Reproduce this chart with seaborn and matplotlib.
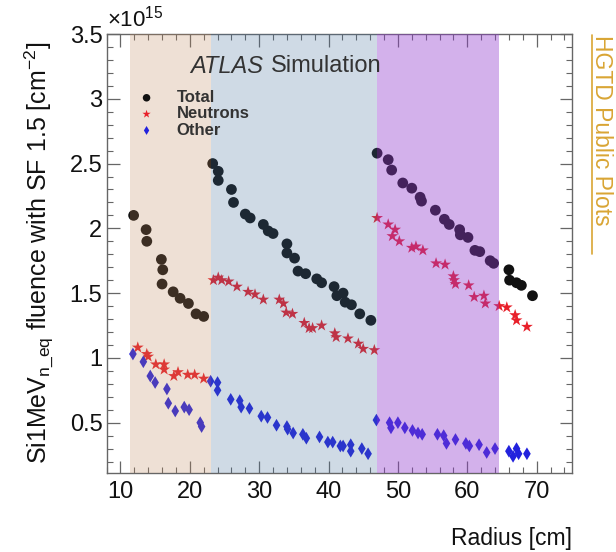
import numpy as np
import pandas as pd
import matplotlib
matplotlib.use("Agg")
import matplotlib.pyplot as plt
from matplotlib.lines import Line2D
from matplotlib.ticker import MultipleLocator, FuncFormatter
import seaborn as sns

# fluence values in units of 1e15 cm^-2, radius in cm
total_r = [11.9, 13.7, 13.8, 15.9, 16.1, 16.0, 17.6, 18.6, 19.8, 20.9, 22.0,
           23.3, 24.1, 24.1, 26.0, 26.3, 28.0, 28.7, 30.6, 31.3, 32.0, 34.0, 34.0, 35.1,
           35.6, 36.7, 38.3, 39.0, 40.8, 41.2, 42.1, 42.4, 43.3, 44.5, 46.1,
           47.0, 48.6, 49.1, 50.7, 52.0, 53.2, 53.4, 55.4, 56.7, 57.4, 58.9, 59.0, 60.1,
           61.1, 61.8, 63.3, 63.8,
           66.0, 66.1, 67.1, 67.8, 69.4]
total_f = [2.10, 1.99, 1.90, 1.76, 1.68, 1.57, 1.51, 1.46, 1.42, 1.34, 1.32,
           2.50, 2.44, 2.37, 2.30, 2.20, 2.11, 2.08, 2.03, 1.98, 1.96, 1.88, 1.81, 1.77,
           1.67, 1.65, 1.61, 1.58, 1.55, 1.48, 1.50, 1.43, 1.41, 1.34, 1.29,
           2.58, 2.53, 2.45, 2.35, 2.31, 2.24, 2.21, 2.14, 2.07, 2.03, 1.99, 1.95, 1.93,
           1.83, 1.82, 1.75, 1.73,
           1.68, 1.60, 1.58, 1.56, 1.48]

neutron_r = [12.5, 13.8, 14.0, 15.1, 16.3, 16.3, 17.7, 18.3, 19.7, 20.7, 22.0,
             23.4, 24.1, 24.6, 25.6, 26.8, 28.4, 29.4, 30.6, 32.9, 33.5, 33.9, 34.8,
             36.5, 37.2, 37.7, 39.0, 40.9, 41.1, 42.8, 44.3, 45.0, 46.6,
             47.0, 48.6, 49.6, 49.2, 50.2, 52.0, 52.6, 53.6, 55.5, 56.8, 58.0, 58.1,
             58.3, 60.2, 61.0, 62.4, 62.6, 64.6,
             65.7, 66.9, 67.1, 68.6]
neutron_f = [1.08, 1.03, 1.01, 0.95, 0.95, 0.91, 0.86, 0.89, 0.87, 0.87, 0.84,
             1.60, 1.62, 1.60, 1.59, 1.55, 1.51, 1.49, 1.45, 1.45, 1.42, 1.35, 1.34,
             1.27, 1.23, 1.23, 1.25, 1.19, 1.16, 1.15, 1.11, 1.07, 1.06,
             2.08, 2.03, 1.99, 1.94, 1.90, 1.85, 1.86, 1.83, 1.73, 1.72, 1.63, 1.60,
             1.57, 1.56, 1.47, 1.48, 1.42, 1.40,
             1.39, 1.33, 1.29, 1.24]

other_r = [11.8, 13.3, 14.3, 15.0, 16.7, 16.9, 17.9, 19.2, 19.9, 21.5, 21.7,
           23.0, 24.0, 24.0, 25.9, 27.2, 27.4, 28.6, 30.3, 31.2, 32.5, 34.0, 34.1,
           34.9, 36.3, 36.8, 38.7, 39.9, 40.6, 41.7, 42.1, 43.2, 43.2, 44.8, 45.7,
           46.9, 48.8, 49.0, 50.0, 51.0, 52.1, 52.9, 53.5, 55.7, 56.6, 57.0, 58.3,
           59.8, 60.3, 61.7, 62.8, 64.0,
           66.0, 66.6, 67.1, 67.4, 68.6]
other_f = [1.03, 0.97, 0.86, 0.81, 0.76, 0.65, 0.59, 0.62, 0.60, 0.50, 0.47,
           0.82, 0.81, 0.75, 0.68, 0.67, 0.62, 0.61, 0.55, 0.54, 0.48, 0.47, 0.45,
           0.42, 0.41, 0.38, 0.39, 0.35, 0.35, 0.32, 0.32, 0.33, 0.28, 0.30, 0.26,
           0.52, 0.50, 0.46, 0.50, 0.46, 0.44, 0.42, 0.41, 0.41, 0.40, 0.34, 0.37,
           0.34, 0.32, 0.33, 0.27, 0.30,
           0.28, 0.24, 0.30, 0.26, 0.26]

# detector ring regions (radius ranges)
region_edges = [(11.4, 23.0), (23.0, 47.0), (47.0, 64.6)]
region_colors = ["#bf875b", "#436f9b", "#913ccf"]
region_alpha = [0.25, 0.25, 0.4]

sns.set_style("ticks")
plt.rcParams["font.family"] = ["Liberation Sans", "DejaVu Sans"]
plt.rcParams["mathtext.fontset"] = "custom"
plt.rcParams["mathtext.rm"] = "Liberation Sans"
plt.rcParams["mathtext.it"] = "Liberation Sans:italic"

df_tot = pd.DataFrame({"r": total_r, "f": total_f})
df_neu = pd.DataFrame({"r": neutron_r, "f": neutron_f})
df_oth = pd.DataFrame({"r": other_r, "f": other_f})

fig = plt.figure(figsize=(6.16, 5.52), dpi=100)
ax = fig.add_axes([0.173, 0.1437, 0.7556, 0.7947])

sns.scatterplot(data=df_tot, x="r", y="f", ax=ax, color="#111111", marker="o",
                s=60, edgecolor="none", label="Total", zorder=2)
sns.scatterplot(data=df_neu, x="r", y="f", ax=ax, color="#e8202a", marker="*",
                s=80, edgecolor="none", label="Neutrons", zorder=2)
sns.scatterplot(data=df_oth, x="r", y="f", ax=ax, color="#2222dd", marker="d",
                s=42, edgecolor="none", label="Other", zorder=2)

for (lo, hi), c, a in zip(region_edges, region_colors, region_alpha):
    ax.axvspan(lo, hi, color=c, alpha=a, lw=0, zorder=3)

ax.set_xlim(8.0, 75.1)
ax.set_ylim(0.114, 3.5)
ax.xaxis.set_major_locator(MultipleLocator(10))
ax.xaxis.set_minor_locator(MultipleLocator(2))
ax.yaxis.set_major_locator(MultipleLocator(0.5))
ax.yaxis.set_minor_locator(MultipleLocator(0.1))
ax.yaxis.set_major_formatter(FuncFormatter(lambda v, p: f"{v:g}"))
ax.tick_params(which="both", direction="in", top=True, right=True,
               color="#666666", labelsize=17, labelcolor="#111111")
ax.tick_params(which="major", length=9, width=0.9)
ax.tick_params(which="minor", length=4.5, width=0.8)
ax.tick_params(axis="x", pad=6)
ax.tick_params(axis="y", pad=3)
for sp in ax.spines.values():
    sp.set_color("#666666")
    sp.set_linewidth(1.0)

ax.set_xlabel("Radius [cm]", fontsize=16.5, loc="right", labelpad=17, color="#111111")
ax.set_ylabel(r"Si1MeV$_{\mathregular{n\_eq}}$ fluence with SF 1.5 [cm$^{\mathregular{-2}}$]",
              fontsize=18, labelpad=10, color="#111111")

ax.text(0.0, 1.005, r"$\times$10$^{\mathregular{15}}$", transform=ax.transAxes,
        fontsize=16, ha="left", va="bottom", color="#111111")

ax.text(0.179, 0.927, "ATLAS", transform=ax.transAxes, fontsize=17,
        fontstyle="italic", color="#333333", ha="left", va="center", zorder=6)
ax.text(0.353, 0.927, "Simulation", transform=ax.transAxes, fontsize=17,
        color="#333333", ha="left", va="center", zorder=6)

leg = ax.legend(loc="upper left", bbox_to_anchor=(0.068, 0.872), frameon=False,
                fontsize=12, handlelength=1.0, handletextpad=1.3, labelspacing=0.08,
                borderpad=0, borderaxespad=0, markerscale=0.7)
for t in leg.get_texts():
    t.set_fontweight("bold")
    t.set_color("#333333")

fig.text(0.977, 0.937, "HGTD Public Plots", rotation=-90, ha="center", va="top",
         fontsize=16.5, color="#d9a534")
fig.add_artist(Line2D([0.961, 0.961], [0.937, 0.54], transform=fig.transFigure,
                      color="#d9a534", lw=1.2))

fig.savefig("out.png", dpi=100)
